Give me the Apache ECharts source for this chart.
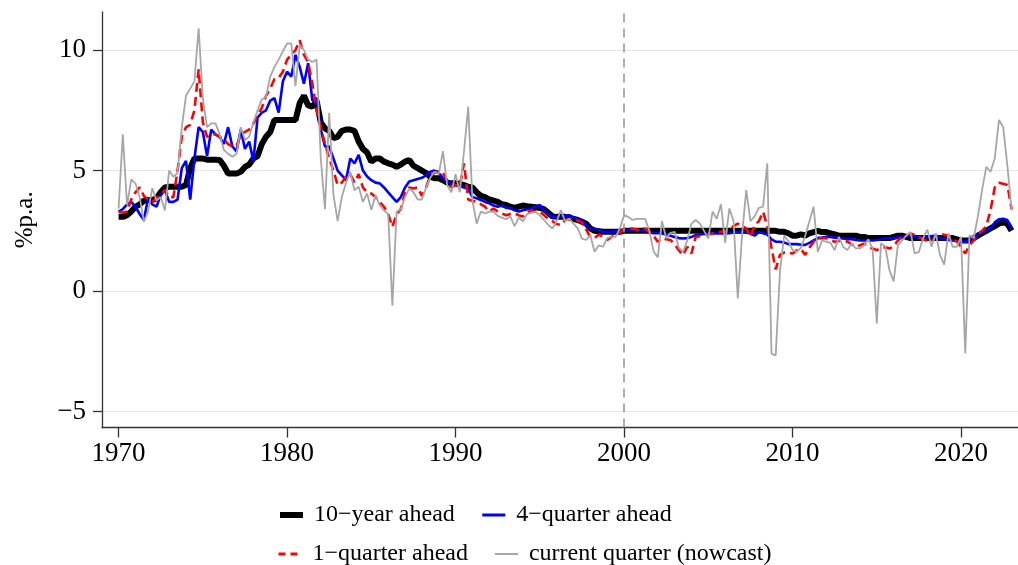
<!DOCTYPE html>
<html>
<head>
<meta charset="utf-8">
<script src="https://cdn.jsdelivr.net/npm/echarts@6/dist/echarts.min.js"></script>
<style>
html,body{margin:0;padding:0;background:#fff;}
#c{width:1018px;height:565px;}
</style>
</head>
<body>
<div id="c"></div>
<script>
// Quarterly data, 1970Q1 .. 2023Q1
const startYear = 1970;
const seriesNames = ['10\u2212year ahead', '4\u2212quarter ahead', '1\u2212quarter ahead', 'current quarter (nowcast)'];
const xTicks = [1970, 1980, 1990, 2000, 2010, 2020];
const yTicks = [-5, 0, 5, 10];
const markYear = 2000;

const tenYear = [
3.08,3.08,3.15,3.3, 3.5,3.6,3.75,3.78, 3.78,3.85,4.1,4.3, 4.33,4.33,4.33,4.33,
4.4,5.1,5.5,5.5, 5.5,5.45,5.45,5.45, 5.44,5.2,4.88,4.88, 4.88,4.95,5.15,5.25,
5.5,5.6,6.1,6.4, 6.6,7.1,7.1,7.1, 7.1,7.1,7.1,7.8, 8.1,7.7,7.65,7.9,
7.0,6.75,6.65,6.35, 6.4,6.65,6.7,6.7, 6.65,6.2,5.9,5.75, 5.37,5.5,5.5,5.37,
5.3,5.25,5.16,5.25, 5.37,5.44,5.2,5.1, 5.0,4.9,4.74,4.68, 4.68,4.6,4.5,4.47,
4.47,4.45,4.4,4.33, 4.3,4.1,3.95,3.9, 3.8,3.75,3.7,3.6, 3.57,3.5,3.45,3.5,
3.55,3.52,3.5,3.48, 3.45,3.4,3.25,3.1, 3.08,3.08,3.08,3.05, 3.0,2.95,2.88,2.8,
2.6,2.5,2.48,2.46, 2.46,2.46,2.46,2.46,
2.5,2.5,2.5,2.5, 2.5,2.5,2.5,2.5, 2.5,2.5,2.5,2.5, 2.5,2.5,2.5,2.5, 2.5,2.5,2.5,2.5,
2.5,2.5,2.5,2.5, 2.5,2.5,2.5,2.5, 2.5,2.5,2.5,2.5, 2.5,2.5,2.5,2.5,
2.5,2.46,2.46,2.4, 2.3,2.3,2.35,2.3, 2.4,2.45,2.5,2.45, 2.45,2.4,2.35,2.3,
2.3,2.3,2.3,2.3, 2.25,2.25,2.2,2.2, 2.2,2.2,2.2,2.2, 2.25,2.3,2.3,2.25,
2.2,2.2,2.2,2.2, 2.2,2.2,2.2,2.2, 2.2,2.2,2.2,2.15, 2.1,2.1,2.1,2.2,
2.3,2.4,2.5,2.6, 2.7,2.8,2.85,2.8, 2.5
];

const fourQuarter = [
3.3,3.4,3.6,3.7, 3.5,3.2,2.95,3.85, 3.6,3.5,4.0,4.2, 3.7,3.7,3.8,5.1,
5.4,3.8,5.5,6.8, 6.6,5.6,6.7,6.5, 6.4,6.1,6.8,6.0, 5.8,6.7,5.9,6.2,
5.4,7.2,7.4,7.5, 7.9,8.0,7.4,8.7, 9.1,8.9,9.8,9.3, 8.6,9.45,7.9,8.0,
6.7,6.0,6.0,5.5, 5.0,4.8,4.6,5.5, 5.3,5.65,5.0,4.75, 4.6,4.5,4.47,4.3,
4.1,3.9,3.7,3.9, 4.3,4.55,4.6,4.65, 4.7,4.8,4.95,5.0, 4.9,4.7,4.55,4.45,
4.4,4.35,4.3,4.25, 3.9,3.85,3.78,3.7, 3.64,3.55,3.5,3.55, 3.45,3.45,3.35,3.3,
3.35,3.4,3.43,3.5, 3.57,3.35,3.2,3.05, 3.08,3.1,3.12,3.15, 3.05,3.0,2.9,2.75,
2.6,2.6,2.55,2.46, 2.46,2.46,2.48,2.5,
2.53,2.53,2.53,2.53, 2.53,2.5,2.45,2.4, 2.4,2.39,2.35,2.3, 2.25,2.2,2.18,2.2,
2.25,2.32,2.35,2.37, 2.39,2.39,2.39,2.39, 2.39,2.4,2.43,2.45, 2.46,2.42,2.39,2.3,
2.45,2.4,2.35,2.15, 2.05,2.05,2.02,1.95, 1.95,1.95,1.92,1.92, 2.0,2.1,2.2,2.22,
2.25,2.25,2.22,2.2, 2.18,2.15,2.15,2.12, 2.1,2.1,2.1,2.1, 2.12,2.15,2.18,2.2,
2.2,2.22,2.25,2.28, 2.3,2.3,2.2,2.18, 2.25,2.28,2.3,2.22, 2.15,2.12,2.1,2.08,
2.05,2.05,2.12,2.2, 2.38,2.45,2.5,2.6, 2.85,2.98,3.0,2.95, 2.6
];

const oneQuarter = [
3.3,3.25,3.3,3.8, 4.1,4.3,3.95,3.8, 3.7,3.85,4.0,4.2, 3.9,3.9,5.0,6.4,
6.8,6.9,7.5,9.2, 7.0,6.4,6.5,6.5, 6.4,6.3,6.1,6.0, 6.0,6.5,6.6,6.7,
6.95,7.3,7.6,8.1, 8.4,8.8,8.85,9.1, 9.6,9.8,10.0,10.4, 9.8,9.5,8.6,7.5,
6.8,6.1,5.5,5.0, 4.4,4.5,4.75,4.85, 4.5,4.85,4.3,4.1, 4.05,3.9,3.7,3.5,
3.2,2.67,3.2,3.4, 4.1,4.3,4.26,4.3, 3.95,4.3,4.8,4.9, 5.0,4.9,4.6,4.3,
4.4,4.35,5.3,3.8, 3.75,3.7,3.6,3.5, 3.3,3.43,3.3,3.22, 3.15,3.2,3.22,3.15,
3.1,3.25,3.36,3.3, 3.29,3.15,3.0,2.9, 2.78,2.74,2.95,3.0, 3.0,2.92,2.85,2.55,
2.25,2.2,2.35,2.25, 2.12,2.25,2.35,2.4,
2.6,2.6,2.6,2.55, 2.53,2.6,2.45,2.3, 2.05,2.18,2.15,2.12, 1.95,1.7,1.49,1.84,
1.56,2.25,2.28,2.32, 2.35,2.39,2.42,2.46, 2.5,2.53,2.7,2.8, 2.7,2.6,2.25,2.74,
2.9,3.29,2.7,1.8, 0.9,1.5,1.6,1.6, 1.56,1.7,1.75,1.5, 1.8,2.05,2.2,2.2,
2.2,2.12,2.05,2.08, 2.12,2.05,1.95,1.84, 1.9,1.97,1.85,1.77, 1.7,1.8,1.82,1.77,
1.85,2.1,2.25,2.3, 2.39,2.33,2.25,2.15, 2.08,2.05,2.3,2.38, 2.34,2.3,2.2,2.05,
1.84,1.56,1.9,2.1, 2.35,2.5,2.7,3.36, 4.3,4.5,4.45,4.4, 3.4
];

const nowcast = [
3.43,6.5,3.56,4.63, 4.47,3.9,2.88,3.3, 4.27,3.76,3.9,3.35, 5.0,4.74,4.9,6.8,
8.1,8.4,8.7,10.9, 8.0,6.8,6.96,6.96, 6.5,5.85,5.7,5.57, 5.7,6.8,6.27,6.4,
7.0,7.5,7.95,8.06, 8.9,9.3,9.6,9.95, 10.27,10.27,8.5,10.2, 10.0,9.6,9.5,9.6,
5.5,3.4,7.4,4.0, 2.9,3.9,4.5,4.95, 4.18,4.33,3.7,4.05, 3.36,3.98,3.56,3.35,
3.2,-0.6,3.29,3.4, 3.9,4.25,4.1,3.8, 3.8,4.3,4.7,4.95, 4.85,5.8,4.4,4.1,
4.85,4.1,5.8,7.65, 3.77,2.8,3.3,3.22, 3.3,3.3,3.12,3.05, 2.98,3.1,2.7,3.05,
2.9,3.2,3.25,3.29, 3.15,2.95,2.75,2.6, 2.9,3.36,2.9,3.0, 2.8,2.6,2.18,2.12,
2.32,1.63,1.9,1.84, 2.2,2.25,2.25,2.6,
3.15,3.08,2.95,3.0, 3.0,3.0,2.5,1.65, 1.4,2.9,2.2,2.42, 2.46,1.8,1.63,2.1,
2.8,2.95,2.8,2.5, 2.18,3.3,3.0,3.6, 2.0,3.43,2.9,-0.3, 2.3,4.19,2.9,3.1,
3.45,3.5,5.3,-2.59, -2.67,0.8,2.3,2.08, 1.7,1.63,1.8,2.3, 2.9,3.5,1.63,2.1,
2.05,2.0,1.7,2.25, 1.84,1.7,1.98,1.77, 1.77,1.9,2.15,1.77, -1.34,1.98,1.85,0.87,
0.4,1.9,2.1,2.3, 2.46,1.56,1.63,2.2, 2.55,1.84,2.4,1.5, 1.1,2.4,1.84,1.84,
2.25,-2.59,2.32,2.2, 3.1,4.2,5.16,4.95, 5.5,7.1,6.8,5.2, 3.36
];

function toPairs(arr){ return arr.map((v,i)=>[startYear + i*0.25, v]); }

const FONT = 'Liberation Serif';
const axisColor = '#333';
const legendText = {fontFamily: FONT, fontSize: 24, color: '#000', width: 160, padding: [0,0,0,6]};

const chart = echarts.init(document.getElementById('c'), null, {renderer:'canvas'});
chart.setOption({
  animation: false,
  backgroundColor: '#fff',
  grid: {left: 102, right: 0, top: 12, bottom: 137.5, containLabel: false, outerBoundsMode: 'none'},
  xAxis: {
    type: 'value', min: 1969.015, max: 2023.38,
    axisLine: {show: true, onZero: false, lineStyle: {color: axisColor, width: 1.3}},
    axisTick: {show: true, length: 10, lineStyle: {color: axisColor, width: 1.3}, customValues: xTicks},
    axisLabel: {customValues: xTicks, fontFamily: FONT, fontSize: 27, color: '#000', margin: 13,
      formatter: v => String(v)},
    splitLine: {show: false}
  },
  yAxis: {
    type: 'value', min: -5.655, max: 11.576,
    name: '%p.a.', nameLocation: 'middle', nameGap: 64,
    nameTextStyle: {fontFamily: FONT, fontSize: 25, color: '#000'},
    axisLine: {show: true, onZero: false, lineStyle: {color: axisColor, width: 1.3}},
    axisTick: {show: true, length: 9, lineStyle: {color: axisColor, width: 1.3}, customValues: yTicks},
    axisLabel: {customValues: yTicks, fontFamily: FONT, fontSize: 27, color: '#000', margin: 16,
      formatter: v => String(v).replace('-', '\u2212')},
    splitLine: {show: true, lineStyle: {color: '#e6e6e6', width: 1}}
  },
  legend: [
    {data: [
       {name: seriesNames[0], lineStyle: {width: 6, color: '#000'}},
       {name: seriesNames[1], lineStyle: {width: 3, color: '#0000ff'}}],
     left: 272, top: 498, orient: 'horizontal',
     itemWidth: 23, itemHeight: 14, itemGap: 26,
     itemStyle: {opacity: 0, borderWidth: 0},
     textStyle: legendText},
    {data: [
       {name: seriesNames[2], lineStyle: {width: 3, color: '#ff0000', type: [7, 5]}},
       {name: seriesNames[3], lineStyle: {width: 2, color: '#a6a6a6'}}],
     left: 272, top: 537, orient: 'horizontal',
     itemWidth: 23, itemHeight: 14, itemGap: 26,
     itemStyle: {opacity: 0, borderWidth: 0},
     textStyle: legendText}
  ],
  series: [
    {name: seriesNames[0], type: 'line', data: toPairs(tenYear), showSymbol: false, symbol: 'none',
     lineStyle: {color: '#000', width: 6}, itemStyle: {color: '#000'}, z: 2,
     markLine: {silent: true, symbol: 'none', label: {show: false},
       lineStyle: {color: '#999', type: [9, 6], width: 1.6},
       data: [{xAxis: markYear}]}},
    {name: seriesNames[1], type: 'line', data: toPairs(fourQuarter), showSymbol: false, symbol: 'none',
     lineStyle: {color: '#0000ff', width: 2.6}, itemStyle: {color: '#0000ff'}, z: 3},
    {name: seriesNames[2], type: 'line', data: toPairs(oneQuarter), showSymbol: false, symbol: 'none',
     lineStyle: {color: '#ff0000', width: 2.6, type: [9, 5]}, itemStyle: {color: '#ff0000'}, z: 4},
    {name: seriesNames[3], type: 'line', data: toPairs(nowcast), showSymbol: false, symbol: 'none',
     lineStyle: {color: '#a6a6a6', width: 1.8}, itemStyle: {color: '#a6a6a6'}, z: 5}
  ]
});
</script>
</body>
</html>
